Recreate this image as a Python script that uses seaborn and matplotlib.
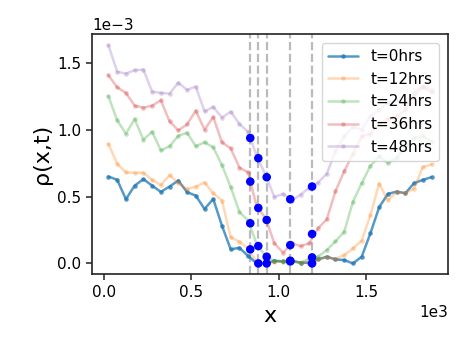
import numpy as np
import pandas as pd
import matplotlib
matplotlib.use("Agg")
import matplotlib.pyplot as plt
import seaborn as sns

# positions along x (data units)
x_pos = [25 + 50 * k for k in range(38)]

rho_t0 = [0.650, 0.625, 0.480, 0.582, 0.630, 0.582, 0.535, 0.575, 0.620, 0.533,
          0.507, 0.407, 0.482, 0.282, 0.105, 0.117, 0.055, 0.000, 0.000, 0.020,
          0.015, 0.020, 0.005, 0.005, 0.030, 0.050, 0.030, 0.025, 0.000, 0.050,
          0.225, 0.420, 0.520, 0.537, 0.525, 0.600, 0.625, 0.645]
rho_t12 = [0.893, 0.745, 0.680, 0.678, 0.678, 0.625, 0.587, 0.660, 0.600, 0.555,
           0.575, 0.605, 0.525, 0.470, 0.195, 0.162, 0.110, 0.005, 0.000, 0.010,
           0.015, 0.010, 0.005, 0.010, 0.030, 0.045, 0.035, 0.062, 0.112, 0.170,
           0.362, 0.597, 0.472, 0.537, 0.525, 0.560, 0.722, 0.740]
rho_t24 = [1.250, 1.070, 0.970, 1.080, 0.925, 0.985, 0.845, 0.877, 0.955, 0.977,
           0.877, 0.905, 0.868, 0.735, 0.570, 0.385, 0.320, 0.140, 0.055, 0.020,
           0.010, 0.020, 0.005, 0.035, 0.050, 0.100, 0.165, 0.237, 0.462, 0.600,
           0.730, 0.800, 0.750, 0.790, 0.870, 0.940, 0.950, 0.910]
rho_t36 = [1.407, 1.317, 1.275, 1.180, 1.165, 1.180, 1.220, 1.062, 0.995, 1.040,
           1.143, 1.000, 1.095, 0.905, 0.860, 0.717, 0.680, 0.420, 0.340, 0.150,
           0.080, 0.150, 0.130, 0.150, 0.262, 0.330, 0.540, 0.690, 0.820, 0.950,
           0.970, 1.050, 1.080, 1.100, 1.150, 1.250, 1.320, 1.280]
rho_t48 = [1.632, 1.433, 1.420, 1.445, 1.450, 1.285, 1.275, 1.270, 1.352, 1.298,
           1.323, 1.137, 1.170, 1.090, 1.135, 1.043, 0.983, 0.800, 0.660, 0.497,
           0.520, 0.470, 0.515, 0.565, 0.605, 0.670, 0.840, 0.950, 1.020, 1.000,
           1.100, 1.150, 1.200, 1.220, 1.180, 1.280, 1.330, 1.300]

series_labels = ["t=0hrs", "t=12hrs", "t=24hrs", "t=36hrs", "t=48hrs"]
series_values = [rho_t0, rho_t12, rho_t24, rho_t36, rho_t48]

# dashed marker lines and dot values (rho in units of 1e-3)
vline_x = [837, 883, 931, 1066, 1191]
dot_x = [837, 837, 837, 837,
         883, 883, 883, 883,
         931, 931, 931, 931,
         1066, 1066, 1066, 1066,
         1191, 1191, 1191, 1191]
dot_y = [0.938, 0.612, 0.300, 0.105,
         0.787, 0.415, 0.130, 0.000,
         0.645, 0.325, 0.050, 0.000,
         0.480, 0.137, 0.020, 0.015,
         0.575, 0.220, 0.045, 0.000]

sns.set_style("ticks", {"axes.edgecolor": "#222222", "text.color": "black",
                        "xtick.color": "black", "ytick.color": "black",
                        "axes.labelcolor": "black"})
plt.rcParams['font.family'] = ['DejaVu Sans']

fig = plt.figure(figsize=(4.65, 3.49), dpi=100)
ax = fig.add_axes([0.1985, 0.214, 0.7643, 0.6877])

palette = sns.color_palette("tab10", 5)
alphas = [0.75, 0.3, 0.3, 0.3, 0.3]
for lab, vals, col, a in zip(series_labels, series_values, palette, alphas):
    df = pd.DataFrame({"x": x_pos, "rho": np.array(vals) * 1e-3})
    sns.lineplot(data=df, x="x", y="rho", ax=ax, color=col, alpha=a,
                 marker="o", markersize=3.3, markeredgewidth=0,
                 linewidth=1.8, label=lab)

for xv in vline_x:
    ax.axvline(xv, color="#aaaaaa", linestyle="--", linewidth=1.6, alpha=0.8, zorder=1)

sns.scatterplot(x=dot_x, y=np.array(dot_y) * 1e-3, ax=ax, color="blue",
                s=38, edgecolor="none", zorder=5, legend=False)

ax.ticklabel_format(style="sci", axis="both", scilimits=(0, 0))
ax.set_xlabel("x", fontsize=16)
ax.set_ylabel("ρ(x,t)", fontsize=16)
ax.tick_params(axis="both", labelsize=11, direction="out", length=4.5, width=1.1,
               bottom=True, left=True, color="#222222")
ax.xaxis.get_offset_text().set_fontsize(11)
ax.yaxis.get_offset_text().set_fontsize(11)
for sp in ax.spines.values():
    sp.set_visible(True)
    sp.set_color("#222222")
    sp.set_linewidth(1.2)

ax.legend(loc="upper right", fontsize=11, bbox_to_anchor=(0.9755, 0.9638),
          borderaxespad=0)

fig.savefig("out.png", dpi=100)
